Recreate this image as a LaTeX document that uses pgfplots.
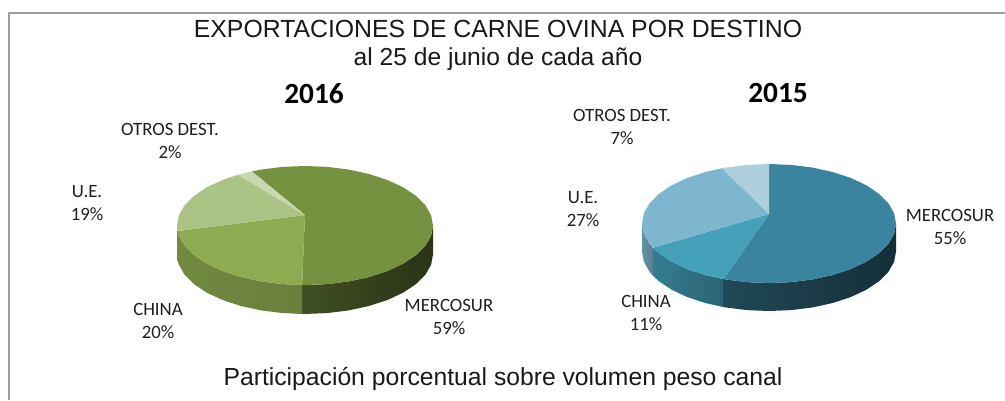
\documentclass[border=0pt]{standalone}
\usepackage{pgfplots}
\pgfplotsset{compat=1.18}
\usepackage{fontspec}
\setmainfont{Liberation Sans}
\newfontfamily\carl{Carlito}

% 1 px of the reference = 1 pt here
\definecolor{merA}{HTML}{76913F}
\definecolor{chiA}{HTML}{8DAB50}
\definecolor{ueA}{HTML}{ABC384}
\definecolor{otrA}{HTML}{C8D8B0}
\definecolor{merB}{HTML}{3B849F}
\definecolor{chiB}{HTML}{45A0BA}
\definecolor{ueB}{HTML}{7DB6CE}
\definecolor{otrB}{HTML}{ADCEDB}

\pgfplotsset{
  pie/.style={
    hide axis, scale only axis, clip=false,
    xmin=-1, xmax=1, ymin=-1.5, ymax=1,
    anchor=south west
  }
}

\newcommand{\lab}[4]{%
  \node[font=\carl\fontsize{18.8}{22.5}\selectfont, text=black!88, align=center] at (axis cs:#1,#2) {#3\\#4};}

\begin{document}
\begin{tikzpicture}
\path[use as bounding box] (0pt,0pt) rectangle (1005pt,400pt);
% canvas: frame and texts, in pixels of the reference
\begin{axis}[
  hide axis, scale only axis, clip=false,
  width=1005pt, height=400pt,
  xmin=0, xmax=1005, ymin=0, ymax=400, y dir=reverse,
  anchor=south west, at={(0pt,0pt)}
]
  \addplot[draw=black!38, line width=2pt] coordinates {(9,400) (9,13) (1005,13)};
  \node[font=\fontsize{24.8}{28}\selectfont, text=black!90] at (axis cs:498,29) {EXPORTACIONES DE CARNE OVINA POR DESTINO};
  \node[font=\fontsize{24.6}{28}\selectfont, text=black!90] at (axis cs:498,59) {al 25 de junio de cada año};
  \node[font=\carl\bfseries\fontsize{29.3}{34}\selectfont] at (axis cs:314,94) {2016};
  \node[font=\carl\bfseries\fontsize{29.3}{34}\selectfont] at (axis cs:778,93) {2015};
  \node[font=\fontsize{24.7}{28}\selectfont, text=black!90] at (axis cs:503,379) {Participación porcentual sobre volumen peso canal};
  \lab{170}{141}{OTROS DEST.}{2\%}
  \lab{87}{203}{U.E.}{19\%}
  \lab{158}{321}{CHINA}{20\%}
  \lab{449}{317}{MERCOSUR}{59\%}
  \lab{622}{127}{OTROS DEST.}{7\%}
  \lab{583}{209}{U.E.}{27\%}
  \lab{646}{313}{CHINA}{11\%}
  \lab{950}{227}{MERCOSUR}{55\%}
\end{axis}

% 2016
\begin{axis}[pie, at={(177pt,85.25pt)}, width=256pt, height=148.75pt]
  % side wall
  \addplot[draw=none, left color=ueA!70!black, right color=ueA!70!black] coordinates {
    (-.996,-.092) (-1,0) (-1,-.487) (-.996,-.579)} -- cycle;
  \addplot[draw=none, left color=chiA!80!black, middle color=chiA!90!black, right color=chiA!75!black] coordinates {
    (-.023,-1) (-.174,-.985) (-.342,-.940) (-.5,-.866) (-.643,-.766) (-.766,-.643)
    (-.866,-.5) (-.940,-.342) (-.985,-.174) (-.996,-.092)
    (-.996,-.579) (-.985,-.661) (-.940,-.829) (-.866,-.987) (-.766,-1.13) (-.643,-1.253)
    (-.5,-1.353) (-.342,-1.427) (-.174,-1.472) (-.023,-1.487)} -- cycle;
  \addplot[draw=none, left color=merA!55!black, right color=merA!35!black] coordinates {
    (1,0) (.985,-.174) (.940,-.342) (.866,-.5) (.766,-.643) (.643,-.766) (.5,-.866)
    (.342,-.940) (.174,-.985) (0,-1) (-.023,-1)
    (-.023,-1.487) (0,-1.487) (.174,-1.472) (.342,-1.427) (.5,-1.353) (.643,-1.253)
    (.766,-1.13) (.866,-.987) (.940,-.829) (.985,-.661) (1,-.487)} -- cycle;
  % top: MERCOSUR, CHINA, U.E., OTROS DEST.
  \addplot[draw=none, fill=merA] coordinates {
    (0,.176) (-.415,.910) (-.342,.940) (-.174,.985) (0,1) (.174,.985) (.342,.940) (.5,.866)
    (.643,.766) (.766,.643) (.866,.5) (.940,.342) (.985,.174) (1,0) (.985,-.174) (.940,-.342)
    (.866,-.5) (.766,-.643) (.643,-.766) (.5,-.866) (.342,-.940) (.174,-.985) (0,-1) (-.023,-1)} -- cycle;
  \addplot[draw=none, fill=chiA] coordinates {
    (0,.176) (-.023,-1) (-.174,-.985) (-.342,-.940) (-.5,-.866) (-.643,-.766) (-.766,-.643)
    (-.866,-.5) (-.940,-.342) (-.985,-.174) (-.996,-.092)} -- cycle;
  \addplot[draw=none, fill=ueA] coordinates {
    (0,.176) (-.996,-.092) (-1,0) (-.985,.174) (-.940,.342) (-.866,.5) (-.766,.643) (-.643,.766)
    (-.524,.852)} -- cycle;
  \addplot[draw=none, fill=otrA] coordinates {
    (0,.176) (-.524,.852) (-.5,.866) (-.415,.910)} -- cycle;
\end{axis}

% 2015
\begin{axis}[pie, at={(642pt,87.25pt)}, width=254pt, height=148.75pt]
  \addplot[draw=none, left color=ueB!80!black, right color=ueB!70!black] coordinates {
    (-.914,-.407) (-.940,-.342) (-.985,-.174) (-1,0)
    (-1,-.471) (-.985,-.645) (-.940,-.813) (-.914,-.878)} -- cycle;
  \addplot[draw=none, left color=chiB!78!black, right color=chiB!62!black] coordinates {
    (-.358,-.934) (-.5,-.866) (-.643,-.766) (-.766,-.643) (-.866,-.5) (-.914,-.407)
    (-.914,-.878) (-.866,-.971) (-.766,-1.114) (-.643,-1.237) (-.5,-1.337) (-.358,-1.405)} -- cycle;
  \addplot[draw=none, left color=merB!55!black, right color=merB!35!black] coordinates {
    (1,0) (.985,-.174) (.940,-.342) (.866,-.5) (.766,-.643) (.643,-.766) (.5,-.866)
    (.342,-.940) (.174,-.985) (0,-1) (-.174,-.985) (-.342,-.940) (-.358,-.934)
    (-.358,-1.405) (-.342,-1.411) (-.174,-1.456) (0,-1.471) (.174,-1.456) (.342,-1.411)
    (.5,-1.337) (.643,-1.237) (.766,-1.114) (.866,-.971) (.940,-.813) (.985,-.645) (1,-.471)} -- cycle;
  \addplot[draw=none, fill=merB] coordinates {
    (0,.16) (0,1) (.174,.985) (.342,.940) (.5,.866) (.643,.766) (.766,.643) (.866,.5) (.940,.342)
    (.985,.174) (1,0) (.985,-.174) (.940,-.342) (.866,-.5) (.766,-.643) (.643,-.766) (.5,-.866)
    (.342,-.940) (.174,-.985) (0,-1) (-.174,-.985) (-.342,-.940) (-.358,-.934)} -- cycle;
  \addplot[draw=none, fill=chiB] coordinates {
    (0,.16) (-.358,-.934) (-.5,-.866) (-.643,-.766) (-.766,-.643) (-.866,-.5) (-.914,-.407)} -- cycle;
  \addplot[draw=none, fill=ueB] coordinates {
    (0,.16) (-.914,-.407) (-.940,-.342) (-.985,-.174) (-1,0) (-.985,.174) (-.940,.342) (-.866,.5)
    (-.766,.643) (-.643,.766) (-.5,.866) (-.370,.929)} -- cycle;
  \addplot[draw=none, fill=otrB] coordinates {
    (0,.16) (-.370,.929) (-.342,.940) (-.174,.985) (0,1)} -- cycle;
\end{axis}
\end{tikzpicture}
\end{document}
